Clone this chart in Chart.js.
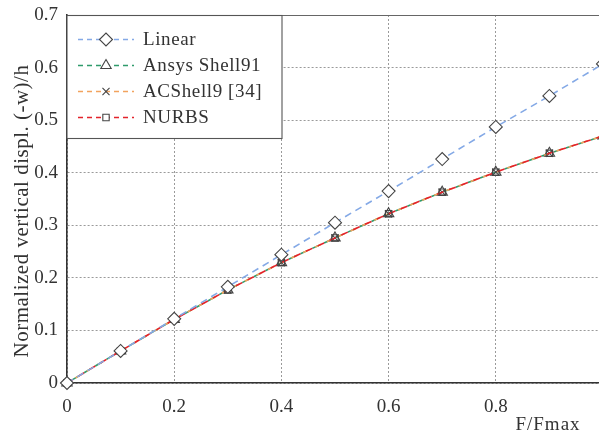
<!DOCTYPE html>
<html>
<head>
<meta charset="utf-8">
<script src="https://cdn.jsdelivr.net/npm/chart.js@4/dist/chart.umd.min.js"></script>
<style>
    html, body { margin: 0; padding: 0; background: #fff; overflow: hidden; }
    #wrap { width: 599px; height: 435px; overflow: hidden; }
</style>
</head>
<body>
<div id="wrap">
    <canvas id="Chart" width="625" height="435"></canvas>
</div>
<script>
// values
const forceRatio = [0, 0.1, 0.2, 0.3, 0.4, 0.5, 0.6, 0.7, 0.8, 0.9, 1.0];
const linear = [0, 0.061, 0.122, 0.183, 0.244, 0.305, 0.365, 0.426, 0.487, 0.546, 0.607];
const ansysShell91 = [0, 0.061, 0.121, 0.177, 0.229, 0.276, 0.322, 0.363, 0.401, 0.437, 0.47];
const acShell9 = [0, 0.061, 0.121, 0.177, 0.229, 0.276, 0.322, 0.363, 0.401, 0.437, 0.47];
const nurbs = [0, 0.061, 0.121, 0.177, 0.229, 0.276, 0.322, 0.363, 0.401, 0.437, 0.47];

const seriesNames = ['Linear', 'Ansys Shell91', 'ACShell9 [34]', 'NURBS'];
const xTicks = [0, 0.2, 0.4, 0.6, 0.8, 1];
const yTicks = [0, 0.1, 0.2, 0.3, 0.4, 0.5, 0.6, 0.7];

const serif = '"Liberation Serif", "Times New Roman", serif';
const textColor = '#333';
const markerColor = '#444';

function toPoints(values)
{
    return values.map((v, i) => ({ x: forceRatio[i], y: v }));
}

const styles = [
    { color: '#84a9e6', marker: 'rectRot', radius: 6.5, fill: '#fff', dash: [7, 5], offset: 0, order: 0 },
    { color: '#2f9b6b', marker: 'triangle', radius: 6, fill: 'rgba(0,0,0,0)', dash: [7, 6], offset: 6, order: 3 },
    { color: '#f2a35e', marker: 'crossRot', radius: 5, fill: 'rgba(0,0,0,0)', dash: [7, 6], offset: 3, order: 2 },
    { color: '#e3232b', marker: 'rect', radius: 4.5, fill: 'rgba(0,0,0,0)', dash: [7, 6], offset: 0, order: 1 }
];

const allValues = [linear, ansysShell91, acShell9, nurbs];

const datasets = allValues.map((vals, i) => ({
    label: seriesNames[i],
    data: toPoints(vals),
    borderColor: styles[i].color,
    borderWidth: 1.6,
    borderDash: styles[i].dash,
    borderDashOffset: styles[i].offset,
    pointStyle: styles[i].marker,
    pointRadius: styles[i].radius,
    pointBorderColor: markerColor,
    pointBorderWidth: 1.1,
    pointBackgroundColor: styles[i].fill,
    tension: 0,
    fill: false,
    clip: false,
    order: styles[i].order
}));

function drawMarker(ctx, style, radius, x, y)
{
    ctx.fillStyle = '#fff';
    ctx.strokeStyle = markerColor;
    ctx.lineWidth = 1.1;
    Chart.helpers.drawPoint(ctx, { pointStyle: style, radius: radius, borderWidth: 1.1, rotation: 0 }, x, y);
}

// frame, axis titles and the boxed legend
const decorations = {
    id: 'decorations',
    beforeDatasetsDraw(chart)
    {
        const { ctx, chartArea } = chart;
        ctx.save();
        ctx.strokeStyle = '#666';
        ctx.lineWidth = 1.2;
        ctx.beginPath();
        ctx.moveTo(chartArea.left, chartArea.top + 0.5);
        ctx.lineTo(chartArea.right, chartArea.top + 0.5);
        ctx.moveTo(chartArea.right, chartArea.top);
        ctx.lineTo(chartArea.right, chartArea.bottom);
        ctx.stroke();
        ctx.restore();
    },
    afterDatasetsDraw(chart)
    {
        const { ctx, chartArea } = chart;
        ctx.save();

        // legend box
        const bx = chartArea.left, by = chartArea.top + 0.5, bw = 215, bh = 123;
        ctx.fillStyle = '#fff';
        ctx.fillRect(bx, by, bw, bh);
        ctx.strokeStyle = '#555';
        ctx.lineWidth = 1.1;
        ctx.strokeRect(bx, by, bw, bh);

        ctx.font = '19px ' + serif;
        ctx.letterSpacing = '0.6px';
        ctx.textBaseline = 'middle';
        ctx.textAlign = 'left';
        chart.data.datasets.forEach((ds, i) => {
            const yy = by + 24 + i * 26;
            ctx.setLineDash([5, 4]);
            ctx.strokeStyle = ds.borderColor;
            ctx.lineWidth = 1.6;
            ctx.beginPath();
            ctx.moveTo(bx + 11, yy);
            ctx.lineTo(bx + 67, yy);
            ctx.stroke();
            ctx.setLineDash([]);
            drawMarker(ctx, ds.pointStyle, ds.pointRadius, bx + 39, yy);
            ctx.fillStyle = textColor;
            ctx.fillText(ds.label, bx + 76, yy + 1);
        });
        ctx.restore();
    },
    afterDraw(chart)
    {
        const { ctx } = chart;
        ctx.save();
        ctx.fillStyle = textColor;
        ctx.font = '21px ' + serif;
        ctx.letterSpacing = '0.5px';
        ctx.textAlign = 'center';
        ctx.textBaseline = 'middle';
        ctx.translate(22, 211);
        ctx.rotate(-Math.PI / 2);
        ctx.fillText('Normalized vertical displ. (-w)/h', 0, 0);
        ctx.restore();

        ctx.save();
        ctx.fillStyle = textColor;
        ctx.font = '19px ' + serif;
        ctx.letterSpacing = '1px';
        ctx.textAlign = 'center';
        ctx.textBaseline = 'middle';
        ctx.fillText('F/Fmax', 548, 425);
        ctx.restore();
    }
};

const ctx = document.getElementById('Chart');

new Chart(ctx, {
    type: 'line',
    data: { datasets: datasets },
    options: {
        responsive: false,
        animation: false,
        layout: { padding: { top: 15, right: 22, left: 0, bottom: 0 } },
        plugins: {
            legend: { display: false },
            tooltip: { enabled: false }
        },
        scales: {
            x: {
                type: 'linear',
                min: 0,
                max: 1,
                afterFit: (scale) => {
                    scale.height = 52;
                    scale.paddingLeft = 0;
                    scale.paddingRight = 0;
                },
                afterBuildTicks: (scale) => { scale.ticks = xTicks.map(v => ({ value: v })); },
                ticks: {
                    padding: 13,
                    color: textColor,
                    font: { family: serif, size: 19 },
                    maxRotation: 0,
                    autoSkip: false,
                    callback: (v) => String(v)
                },
                grid: { color: '#9a9a9a', lineWidth: 1, drawTicks: false },
                border: { color: '#333', width: 1.6, dash: [2, 2] }
            },
            y: {
                min: 0,
                max: 0.7,
                afterFit: (scale) => {
                    scale.width = 67;
                    scale.paddingTop = 0;
                    scale.paddingBottom = 0;
                },
                afterBuildTicks: (scale) => { scale.ticks = yTicks.map(v => ({ value: v })); },
                ticks: {
                    padding: 9,
                    color: textColor,
                    font: { family: serif, size: 19 },
                    autoSkip: false,
                    callback: (v) => String(Math.round(v * 10) / 10)
                },
                grid: { color: '#9a9a9a', lineWidth: 1, drawTicks: false },
                border: { color: '#333', width: 1.6, dash: [2, 2] }
            }
        }
    },
    plugins: [decorations]
});
</script>
</body>
</html>
